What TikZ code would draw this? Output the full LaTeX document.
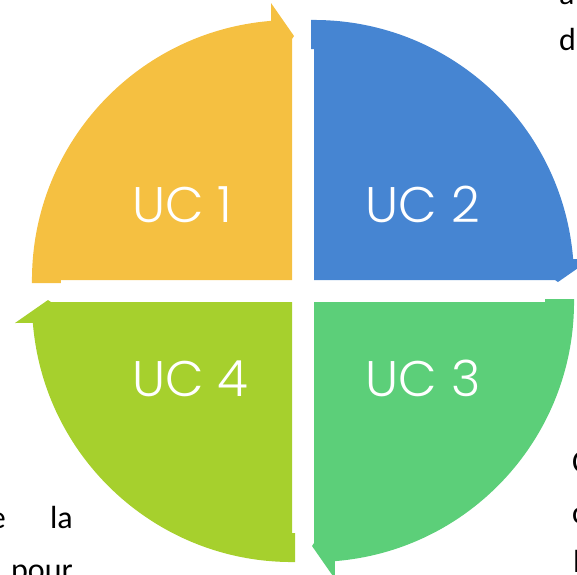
\documentclass[tikz,border=0pt]{standalone}
\usepackage{fontspec}
\newfontfamily\ucfont{Poppins Light}
\newfontfamily\docfont{Carlito}
\usetikzlibrary{positioning}
\definecolor{ucyellow}{RGB}{245,192,65}
\definecolor{ucblue}{RGB}{70,133,210}
\definecolor{ucgreen}{RGB}{92,207,121}
\definecolor{uclime}{RGB}{166,208,45}

\begin{document}
\begin{tikzpicture}[x=1pt, y=1pt,
		uclabel/.style={white, font=\ucfont\fontsize{50}{60}\selectfont, anchor=base west, inner sep=0pt},
		docfrag/.style={font=\docfont\fontsize{32}{38}\selectfont, inner sep=0pt}]
		\useasboundingbox (-303,-283) rectangle (274,291);
		\clip (-303,-283) rectangle (274,291);
		% one quarter arrow, turned four times
		\foreach \ang/\col in {0/ucyellow, -90/ucblue, -180/ucgreen, -270/uclime}
			\fill[\col, rotate=\ang] (-11,11) -- (-242,11) -- (-242,8) -- (-271,8)
				arc[start angle=180.66, end angle=94.6, radius=260]
				-- (-32,288) -- (-9,255) -- (-11,252) -- cycle;
		\node[uclabel] (uc1) at (-170.5,68.3) {UC 1};
		\node[uclabel] (uc2) at (62.5,68.3) {UC 2};
		\node[uclabel] (uc3) at (62.5,-105) {UC 3};
		\node[uclabel] (uc4) at (-170.5,-105) {UC 4};
		% text of the page around it
		\node[docfrag, anchor=base west] (ta) at (256,287) {a};
		\node[docfrag, anchor=base west] (td) at (256,241) {d};
		\node[docfrag, anchor=base west] (rc) at (269,-181) {C};
		\node[docfrag, anchor=base west] (rd) at (269,-232) {c};
		\node[docfrag, anchor=base west] (rl) at (270,-281) {l};
		\node[docfrag, anchor=base east] (le) at (-297,-237) {e};
		\node[docfrag, anchor=base east] (lla) at (-230,-237) {la};
		\node[docfrag, anchor=base east] (lpour) at (-230,-289) {pour};
	\end{tikzpicture}
\end{document}
